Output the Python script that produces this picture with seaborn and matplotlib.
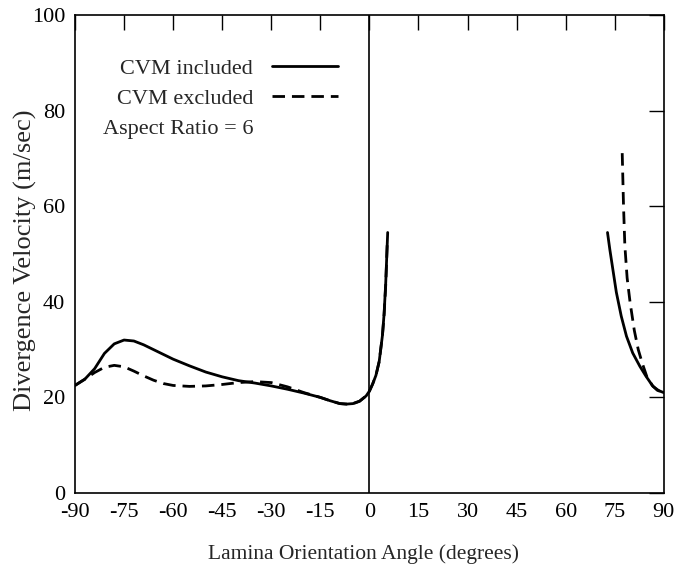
import matplotlib
matplotlib.use("Agg")
import matplotlib.pyplot as plt
import seaborn as sns
import pandas as pd
from matplotlib.lines import Line2D

# ---- data ----
inc_left_x = [-90, -87, -84, -81, -78, -75, -72, -69, -66, -63, -60, -55, -50, -45, -40, -35,
              -30, -25, -20, -15, -12, -9, -7, -5, -3, -1, 0, 1, 2, 3, 4, 4.5, 5, 5.6]
inc_left_y = [22.5, 23.8, 26.0, 29.2, 31.2, 32.0, 31.8, 31.0, 30.0, 29.0, 28.0, 26.6, 25.3, 24.3,
              23.5, 23.0, 22.4, 21.7, 20.9, 20.0, 19.3, 18.7, 18.6, 18.7, 19.2, 20.3, 21.3, 22.8,
              24.6, 27.5, 33.0, 37.5, 44.0, 54.5]
exc_left_x = [-90, -87, -84, -81, -78, -75, -72, -69, -66, -63, -60, -55, -50, -45, -40, -35,
              -30, -25, -20, -15, -12, -9, -7, -5, -3, -1, 0, 1, 2, 3, 4, 4.5, 5, 5.5]
exc_left_y = [22.5, 23.8, 25.2, 26.3, 26.7, 26.4, 25.5, 24.5, 23.6, 22.9, 22.5, 22.3, 22.4, 22.7,
              23.1, 23.3, 23.1, 22.2, 21.0, 20.0, 19.3, 18.7, 18.6, 18.7, 19.2, 20.3, 21.3, 22.8,
              24.6, 27.5, 33.0, 37.3, 43.5, 53.0]
inc_right_x = [72.8, 73.5, 74.5, 75.5, 77, 78.6, 80.5, 82.7, 84.5, 86.7, 88.5, 90]
inc_right_y = [54.5, 51.0, 46.5, 42.0, 37.0, 32.8, 29.3, 26.5, 24.5, 22.3, 21.4, 21.0]
exc_right_x = [77.3, 77.7, 78.1, 78.8, 79.7, 81, 82.2, 83.5, 84.8, 86.5, 88, 90]
exc_right_y = [71.1, 60.0, 51.8, 45.0, 39.9, 34.0, 30.0, 27.0, 24.4, 22.5, 21.5, 21.0]

x_ticks = [-90, -75, -60, -45, -30, -15, 0, 15, 30, 45, 60, 75, 90]
y_ticks = [0, 20, 40, 60, 80, 100]
series_names = ["CVM included", "CVM excluded"]

frames = []
for name, branch, xs, ys in [
    (series_names[0], "L", inc_left_x, inc_left_y),
    (series_names[0], "R", inc_right_x, inc_right_y),
    (series_names[1], "L", exc_left_x, exc_left_y),
    (series_names[1], "R", exc_right_x, exc_right_y),
]:
    frames.append(pd.DataFrame({"x": xs, "y": ys, "series": name, "branch": name + branch}))
df = pd.concat(frames, ignore_index=True)

sns.set_style("white")
plt.rcParams["font.family"] = ["Liberation Serif", "DejaVu Serif"]
plt.rcParams["axes.unicode_minus"] = False

fig = plt.figure(figsize=(6.78, 5.69), dpi=100)
ax = fig.add_axes([0.1106, 0.1336, 0.8684, 0.84])

dash_pat = (4.5, 2.5)
sns.lineplot(data=df, x="x", y="y", style="series", units="branch", estimator=None,
             sort=False, color="black", linewidth=2.0,
             dashes={series_names[0]: "", series_names[1]: dash_pat},
             legend=False, ax=ax)

ax.axvline(0, color="black", linewidth=1.2)

ax.set_xlim(-90, 90)
ax.set_ylim(0, 100)
ax.set_xticks(x_ticks)
ax.set_yticks(y_ticks)
ax.tick_params(direction="in", length=10.5, width=1.0, top=True, right=True,
               labelsize=16, colors="black", pad=7)
for s in ax.spines.values():
    s.set_color("black")
    s.set_linewidth(1.2)

ax.set_xlabel("Lamina Orientation Angle (degrees)", fontsize=15.5)
ax.xaxis.set_label_coords(0.49, -0.108)
ax.set_ylabel("Divergence Velocity (m/sec)", fontsize=19)
ax.yaxis.set_label_coords(-0.064, 0.486)

handles = [
    Line2D([], [], color="black", linewidth=2.0),
    Line2D([], [], color="black", linewidth=2.0, dashes=dash_pat),
    Line2D([], [], color="none"),
]
labels = series_names + ["Aspect Ratio = 6"]
ax.legend(handles, labels, loc="upper left", bbox_to_anchor=(0.032, 0.928),
          frameon=False, markerfirst=False, fontsize=16, handlelength=2.95,
          handletextpad=0.85, labelspacing=0.42, borderaxespad=0)

fig.savefig("out.png", dpi=100)
